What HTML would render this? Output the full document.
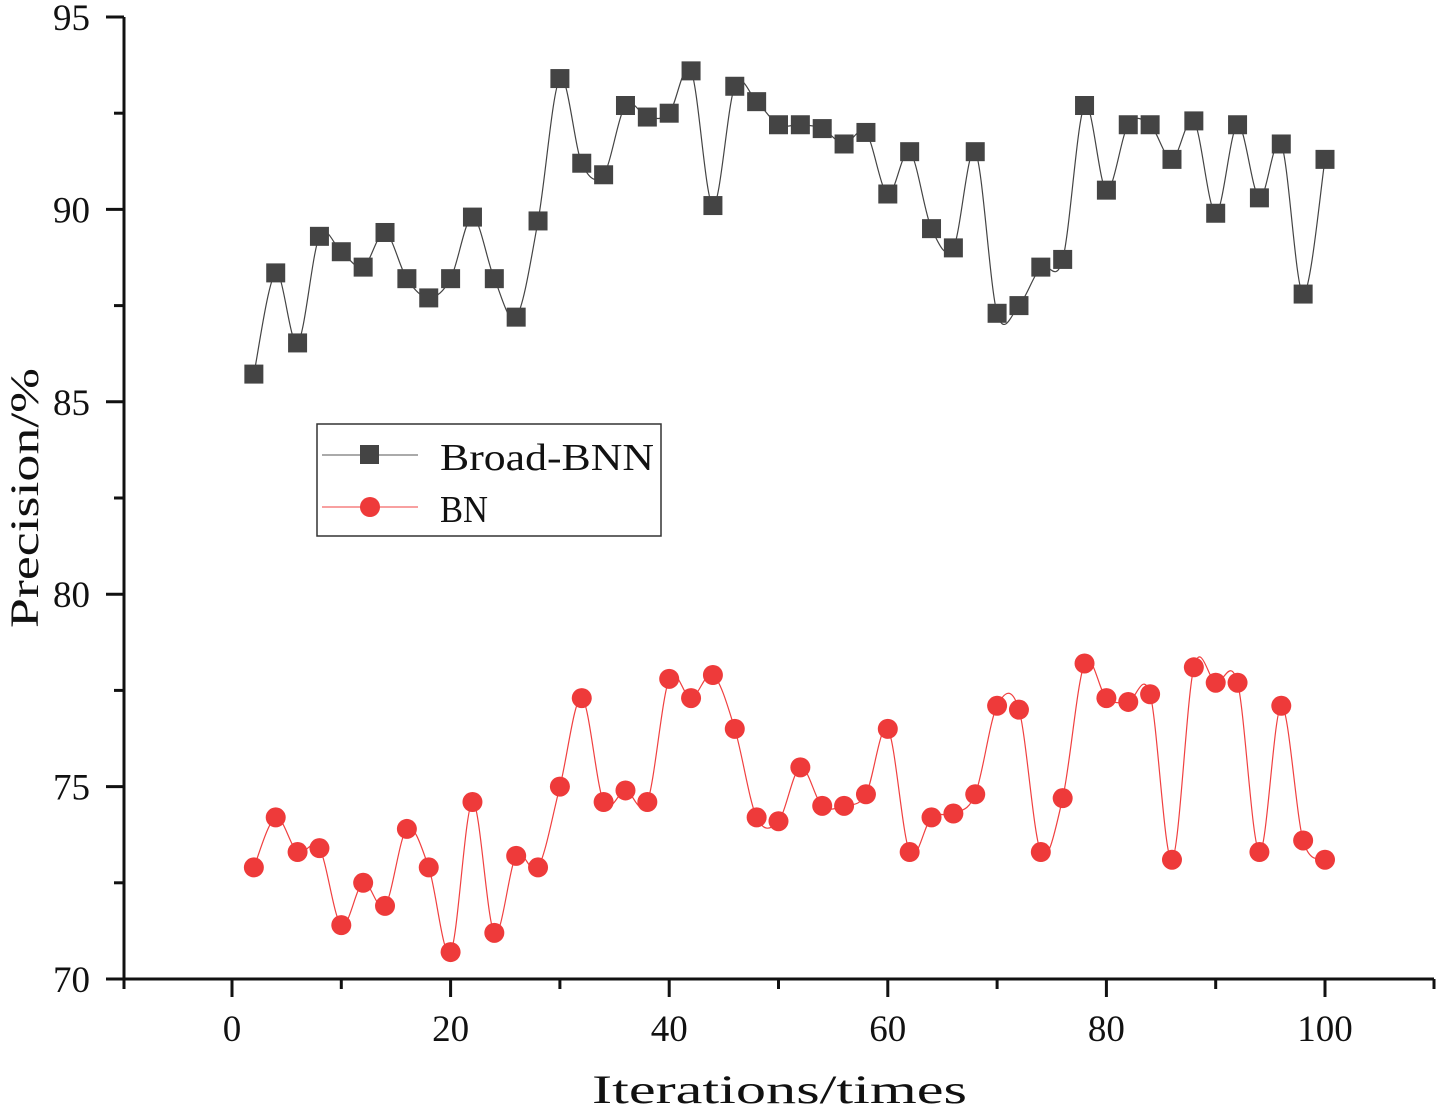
<!DOCTYPE html>
<html><head><meta charset="utf-8"><style>
html,body{margin:0;padding:0;background:#fff;}
svg{display:block;}
text{font-family:"Liberation Serif","Noto Serif CJK SC",serif;fill:#111;}
</style></head><body>
<svg id="chart" width="1438" height="1110" viewBox="0 0 1438 1110" xmlns="http://www.w3.org/2000/svg">
<g id="axes"></g>
<g id="series"></g>
<g id="legend">
<rect x="317" y="424" width="344" height="112" fill="#fff" stroke="#333" stroke-width="1.5"/>
<g>
<line x1="322" y1="455" x2="418" y2="455" stroke="#555" stroke-width="1"/>
<rect x="360" y="445" width="19" height="19" fill="#444"/>
<text x="440" y="470" font-size="38" textLength="214" lengthAdjust="spacingAndGlyphs">Broad-BNN</text>
</g>
<g>
<line x1="322" y1="507" x2="418" y2="507" stroke="#f04040" stroke-width="1"/>
<circle cx="370" cy="507" r="10" fill="#ee3a3a"/>
<text x="440" y="522" font-size="38" textLength="48" lengthAdjust="spacingAndGlyphs">BN</text>
</g>
</g>
</svg>
<script>
const xValues=[2,4,6,8,10,12,14,16,18,20,22,24,26,28,30,32,34,36,38,40,42,44,46,48,50,52,54,56,58,60,62,64,66,68,70,72,74,76,78,80,82,84,86,88,90,92,94,96,98,100];
const broadBNN=[85.72,88.35,86.53,89.3,88.9,88.5,89.4,88.2,87.7,88.2,89.8,88.2,87.2,89.7,93.4,91.2,90.9,92.7,92.4,92.5,93.6,90.1,93.2,92.8,92.2,92.2,92.1,91.7,92.0,90.4,91.5,89.5,89.0,91.5,87.3,87.5,88.5,88.7,92.7,90.5,92.2,92.2,91.3,92.3,89.9,92.2,90.3,91.7,87.8,91.3];
const bn=[72.9,74.2,73.3,73.4,71.4,72.5,71.9,73.9,72.9,70.7,74.6,71.2,73.2,72.9,75.0,77.3,74.6,74.9,74.6,77.8,77.3,77.9,76.5,74.2,74.1,75.5,74.5,74.5,74.8,76.5,73.3,74.2,74.3,74.8,77.1,77.0,73.3,74.7,78.2,77.3,77.2,77.4,73.1,78.1,77.7,77.7,73.3,77.1,73.6,73.1];
const xTicks=[0,20,40,60,80,100];
const yTicks=[70,75,80,85,90,95];

const NS="http://www.w3.org/2000/svg";
const X0=232,X1=1325,Y0=979,Y1=17;
const xs=v=>X0+(v-0)*(X1-X0)/100;
const ys=v=>Y0-(v-70)*(Y0-Y1)/25;
function mk(tag,attrs,parent){const e=document.createElementNS(NS,tag);for(const k in attrs)e.setAttribute(k,attrs[k]);parent.appendChild(e);return e;}
const axes=document.getElementById('axes');
const AX=124,AXR=1434;
let l=mk('line',{x1:AX,y1:Y0,x2:AXR,y2:Y0,stroke:'#111','stroke-width':3},axes);


l=mk('line',{x1:AX,y1:Y0+1,x2:AX,y2:Y1,stroke:'#111','stroke-width':3},axes);


for(let v=-10;v<=110;v+=10){const major=xTicks.includes(v);const x=v===-10?AX:(v===110?AXR:xs(v));
 const t=mk('line',{x1:x,y1:Y0,x2:x,y2:Y0+(major?18:10),stroke:'#111','stroke-width':3},axes);
 
 }
xTicks.forEach(v=>{const t=mk('text',{x:xs(v),y:1041,'font-size':37,'text-anchor':'middle'},axes);t.textContent=v;
 
 });
for(let v=70;v<=95;v+=2.5){const major=yTicks.includes(v);
 const t=mk('line',{x1:AX,y1:ys(v),x2:AX-(major?18:10),y2:ys(v),stroke:'#111','stroke-width':3},axes);
 
 }
yTicks.forEach(v=>{const t=mk('text',{x:90,y:ys(v)+13,'font-size':37,'text-anchor':'end'},axes);t.textContent=v;
 
 });
let tt=mk('text',{x:592,y:1103,'font-size':40,textLength:375,lengthAdjust:'spacingAndGlyphs'},axes);tt.textContent='Iterations/times';


tt=mk('text',{x:0,y:0,'font-size':40,textLength:260,lengthAdjust:'spacingAndGlyphs',transform:'translate(38,628) rotate(-90)'},axes);tt.textContent='Precision/%';



function spline(pts){let d=`M${pts[0][0]},${pts[0][1]}`;for(let i=0;i<pts.length-1;i++){const p0=pts[Math.max(0,i-1)],p1=pts[i],p2=pts[i+1],p3=pts[Math.min(pts.length-1,i+2)];
 const c1=[p1[0]+(p2[0]-p0[0])/6,p1[1]+(p2[1]-p0[1])/6],c2=[p2[0]-(p3[0]-p1[0])/6,p2[1]-(p3[1]-p1[1])/6];
 d+=`C${c1[0]},${c1[1]} ${c2[0]},${c2[1]} ${p2[0]},${p2[1]}`;}return d;}
const sg=document.getElementById('series');
function drawSeries(vals,color,mcolor,shape,name){
 const g=mk('g',{},sg);
 
 
 const pts=xValues.map((x,i)=>[xs(x),ys(vals[i])]);
 const p=mk('path',{d:spline(pts),fill:'none',stroke:color,'stroke-width':1.2},g);
 
 
 pts.forEach(([x,y])=>{let m;
  if(shape==='square')m=mk('rect',{x:x-9.5,y:y-9.5,width:19,height:19,fill:mcolor},g);
  else m=mk('circle',{cx:x,cy:y,r:10,fill:mcolor},g);
  
  });
}
drawSeries(broadBNN,'#444','#444','square','broad-bnn');
drawSeries(bn,'#f04040','#ee3a3a','circle','bn');
</script>
</body></html>
